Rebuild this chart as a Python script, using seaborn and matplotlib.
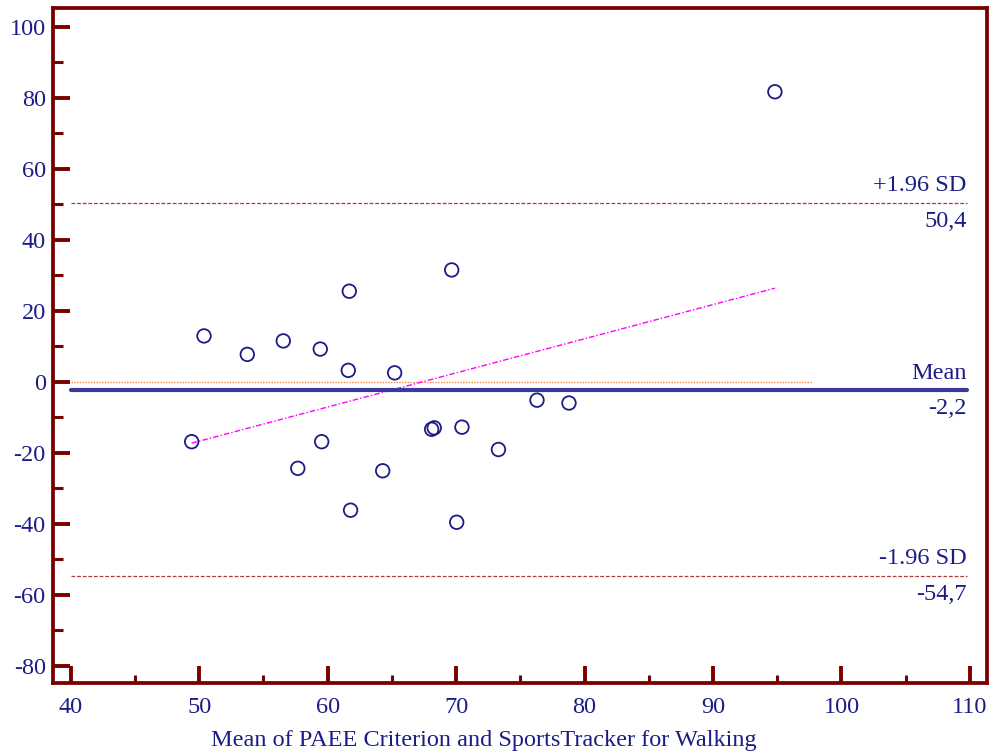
import numpy as np
import pandas as pd
import matplotlib
matplotlib.use("Agg")
import matplotlib.pyplot as plt
from matplotlib.ticker import MultipleLocator
import seaborn as sns

# Mean of the two methods (x) and their difference (y) for each subject
mean_vals = [94.82, 69.66, 61.69, 50.38, 56.55, 53.75, 59.43, 61.61, 65.22,
             76.30, 78.79, 49.42, 59.54, 68.30, 68.10, 70.46, 73.30, 57.68,
             64.29, 61.79, 70.05]
diff_vals = [81.7, 31.5, 25.5, 12.9, 11.5, 7.7, 9.2, 3.2, 2.5,
             -5.2, -6.0, -16.9, -16.9, -13.0, -13.4, -12.8, -19.1, -24.4,
             -25.1, -36.2, -39.6]

# Bland-Altman summary values
bias = -2.2
upper_loa = 50.4
lower_loa = -54.7
zero_line_x = [40, 97.7]
limit_line_x = [40, 109.75]

x_ticks = [40, 50, 60, 70, 80, 90, 100, 110]
y_ticks = [-80, -60, -40, -20, 0, 20, 40, 60, 80, 100]
x_label = "Mean of PAEE Criterion and SportsTracker for Walking"

df = pd.DataFrame({"mean": mean_vals, "diff": diff_vals})

sns.set_style("white")
plt.rcParams["font.family"] = ["Liberation Serif", "DejaVu Serif"]
plt.rcParams["axes.unicode_minus"] = False

navy = "#1c1c86"
maroon = "#7a0000"
fs = 17.5

fig = plt.figure(figsize=(9.94, 7.56), dpi=100)
ax = fig.add_axes([0.053, 0.097, 0.9402, 0.8924])

# zero reference line
ax.plot(zero_line_x, [0, 0], color="#f08a3c", lw=1.0, ls=(0, (1, 1)), zorder=2)

# limits of agreement
for val in (upper_loa, lower_loa):
    ax.plot(limit_line_x, [val, val], color="#a83a3a", lw=0.9,
            ls=(0, (3, 1.5)), zorder=2)

# mean difference
ax.plot(limit_line_x, [bias, bias], color="#3a3a9c", lw=3.0, zorder=3)

# regression of difference on mean
slope, intercept = np.polyfit(df["mean"], df["diff"], 1)
xr = np.array([df["mean"].min(), df["mean"].max()])
ax.plot(xr, intercept + slope * xr, color="#ff00ff", lw=1.0,
        ls=(0, (4, 1.5, 1, 1.5)), zorder=2)

sns.scatterplot(data=df, x="mean", y="diff", ax=ax, marker="o", s=95,
                facecolor="none", edgecolor=navy, linewidth=1.3, zorder=4,
                legend=False)

ax.set_xlim(38.6, 111.35)
ax.set_ylim(-84.8, 105.3)
ax.set_xticks(x_ticks)
ax.set_yticks(y_ticks)
ax.xaxis.set_minor_locator(MultipleLocator(5))
ax.yaxis.set_minor_locator(MultipleLocator(10))

for sp in ax.spines.values():
    sp.set_color(maroon)
    sp.set_linewidth(2.7)
    sp.set_visible(True)

ax.tick_params(axis="both", which="major", direction="in", length=12,
               width=2.8, color=maroon, labelcolor=navy, labelsize=fs)
ax.tick_params(axis="y", which="minor", direction="in", length=7,
               width=2.2, color=maroon, left=True)
ax.tick_params(axis="x", which="minor", direction="in", length=6,
               width=2.2, color=maroon, bottom=True)
ax.tick_params(axis="y", which="major", pad=5, left=True)
ax.tick_params(axis="x", which="major", pad=10, bottom=True)

ax.set_xlabel(x_label, color=navy, fontsize=fs)
ax.xaxis.set_label_coords(0.461, -0.086)
ax.xaxis.label.set_va("center")
ax.set_ylabel("")

txt_x = limit_line_x[1]
ann = dict(color=navy, fontsize=fs, ha="right", textcoords="offset points")
ax.annotate("+1.96 SD", (txt_x, upper_loa), xytext=(0, 5), va="bottom", **ann)
ax.annotate(f"{upper_loa:.1f}".replace(".", ","), (txt_x, upper_loa),
            xytext=(0, -6), va="top", **ann)
ax.annotate("Mean", (txt_x, bias), xytext=(0, 4), va="bottom", **ann)
ax.annotate(f"{bias:.1f}".replace(".", ","), (txt_x, bias),
            xytext=(0, -6), va="top", **ann)
ax.annotate("-1.96 SD", (txt_x, lower_loa), xytext=(0, 5), va="bottom", **ann)
ax.annotate(f"{lower_loa:.1f}".replace(".", ","), (txt_x, lower_loa),
            xytext=(0, -6), va="top", **ann)

fig.savefig("out.png", dpi=100)
